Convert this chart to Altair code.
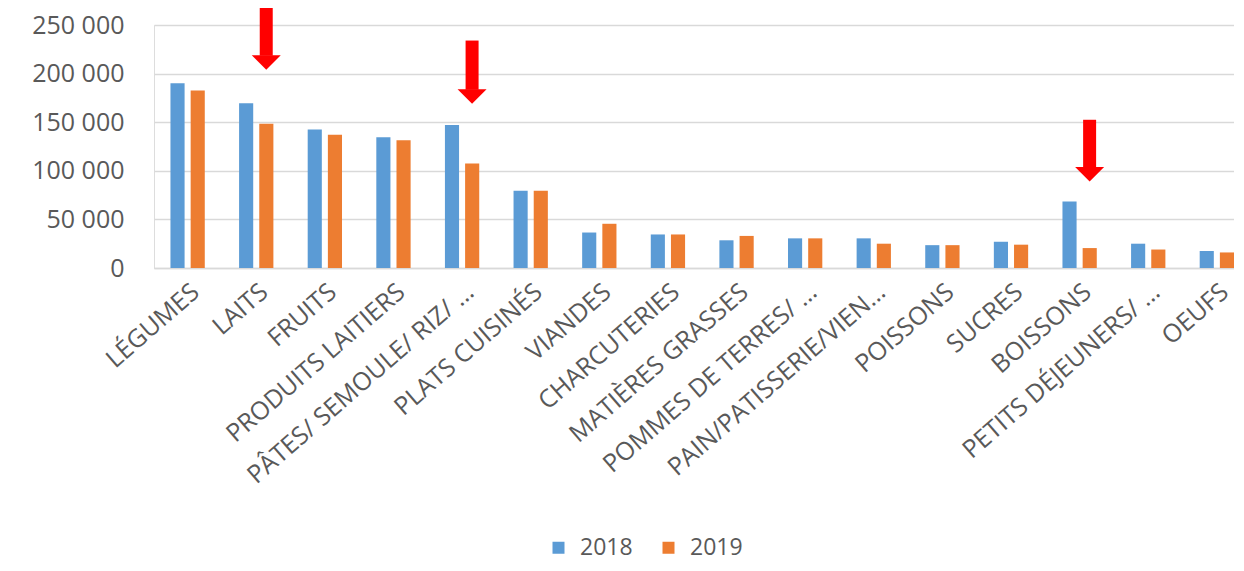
import altair as alt
import pandas as pd

categories = [
    "LÉGUMES", "LAITS", "FRUITS", "PRODUITS LAITIERS", "PÂTES/ SEMOULE/ RIZ/ …",
    "PLATS CUISINÉS", "VIANDES", "CHARCUTERIES", "MATIÈRES GRASSES",
    "POMMES DE TERRES/ …", "PAIN/PATISSERIE/VIEN…", "POISSONS", "SUCRES",
    "BOISSONS", "PETITS DÉJEUNERS/ …", "OEUFS",
]
values_2018 = [190000, 169500, 142500, 134500, 147000, 79500, 36500, 34500,
               28500, 30500, 30500, 23500, 27000, 68500, 25000, 17500]
values_2019 = [182500, 148500, 137000, 131500, 107500, 79500, 45500, 34500,
               33000, 30500, 25000, 23500, 24000, 20500, 19000, 16000]
years = ["2018", "2019"]

arrow_categories = ["LAITS", "PÂTES/ SEMOULE/ RIZ/ …", "BOISSONS"]
arrow_top = [268000, 234000, 152500]
arrow_tip = [204000, 169000, 89000]

rows = []
for c, a, b in zip(categories, values_2018, values_2019):
    rows.append({"cat": c, "year": years[0], "value": a})
    rows.append({"cat": c, "year": years[1], "value": b})
bars_df = pd.DataFrame(rows)
arrows_df = pd.DataFrame({"cat": arrow_categories, "top": arrow_top, "tip": arrow_tip})

FONT = "Open Sans"
GRAY = "#595959"

x_scale = alt.Scale(domain=categories, paddingInner=0.5, paddingOuter=0.12, align=1)
y_scale = alt.Scale(domain=[0, 250000], nice=False, zero=True)

x_enc = alt.X(
    "cat:N", scale=x_scale, sort=categories, title=None,
    axis=alt.Axis(
        labelAngle=-41, labelAlign="right", labelBaseline="middle",
        labelFontSize=25, labelFont=FONT, labelColor=GRAY, labelPadding=20,
        labelOffset=8, labelLimit=0, ticks=False, domain=True,
        domainColor="#d9d9d9", domainWidth=1.5, grid=False, labelOverlap=False,
    ),
)
y_enc = alt.Y(
    "value:Q", scale=y_scale, title=None,
    axis=alt.Axis(
        values=[0, 50000, 100000, 150000, 200000, 250000],
        labelExpr="replace(format(datum.value, ','), ',', ' ')",
        labelFontSize=25, labelFont=FONT, labelColor=GRAY, labelPadding=30,
        ticks=False, domain=False, grid=True, gridColor="#d9d9d9", gridWidth=1.5,
    ),
)

bars = alt.Chart(bars_df).mark_bar().encode(
    x=x_enc,
    xOffset=alt.XOffset("year:N", scale=alt.Scale(paddingInner=0.3, paddingOuter=0)),
    y=y_enc,
    color=alt.Color(
        "year:N",
        scale=alt.Scale(domain=years, range=["#5b9bd5", "#ed7d31"]),
        legend=alt.Legend(
            title=None, orient="none", direction="horizontal",
            legendX=393, legendY=511, padding=0,
            symbolType="square", symbolSize=144, symbolStrokeWidth=0,
            labelFontSize=23, labelFont=FONT, labelColor=GRAY,
            labelOffset=10, columnPadding=24,
        ),
    ),
)

shafts = alt.Chart(arrows_df).mark_rule(
    color="#ff0000", strokeWidth=13, strokeCap="butt", xOffset=10, y2Offset=-14
).encode(
    x=alt.X("cat:N", scale=x_scale, sort=categories),
    y=alt.Y("top:Q", scale=y_scale),
    y2="tip:Q",
)

heads = alt.Chart(arrows_df).mark_point(
    shape="M-1,-1L1,-1L0,0Z", filled=True, color="#ff0000", opacity=1,
    size=841, xOffset=10, strokeWidth=0,
).encode(
    x=alt.X("cat:N", scale=x_scale, sort=categories),
    y=alt.Y("tip:Q", scale=y_scale),
)

chart = alt.layer(bars, shafts, heads).properties(
    width=1080, height=243,
    padding={"left": 146, "top": 17, "right": 0, "bottom": 293},
    autosize=alt.AutoSizeParams(type="none"),
).configure_view(stroke=None).configure(background="white")

chart.save("out.html", embed_options={"renderer": "svg", "actions": False})
